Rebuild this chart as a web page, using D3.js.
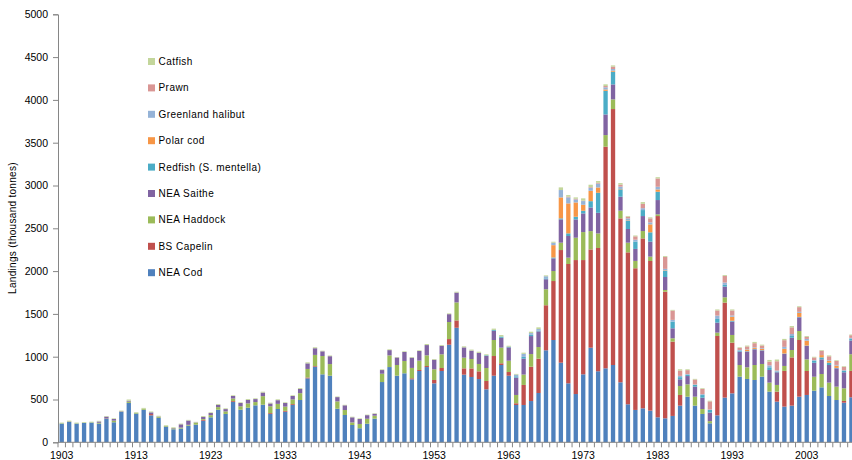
<!DOCTYPE html>
<html>
<head>
<meta charset="utf-8">
<script src="https://cdn.jsdelivr.net/npm/d3@7/dist/d3.min.js"></script>
<style>
  html, body { margin: 0; padding: 0; background: #ffffff; }
  svg { display: block; }
  text { font-family: "Liberation Sans", Arial, sans-serif; fill: #000; }
</style>
</head>
<body>
<svg id="chart" width="852" height="460"></svg>
<script>
// ---------- DATA (thousand tonnes) ----------
const years = d3.range(1903, 2010); // 1903 ... 2009
const tickYears = [1903, 1913, 1923, 1933, 1943, 1953, 1963, 1973, 1983, 1993, 2003];
const yTicks = [0, 500, 1000, 1500, 2000, 2500, 3000, 3500, 4000, 4500, 5000];

const neaCod = [
  218,237,218,226,230,218,272,234,354,460,
  335,380,315,285,183,152,160,194,206,252,
  292,381,331,471,381,404,432,439,331,389,
  357,436,494,747,883,794,778,392,319,202,
  164,217,276,704,879,778,806,736,833,879,
  689,833,1140,1338,790,763,739,619,778,903,
  778,436,436,482,576,1075,1195,930,689,564,
  794,1105,830,864,903,701,444,378,397,370,
  292,280,308,428,533,428,331,222,315,522,
  572,767,740,728,767,592,475,417,428,533,
  553,603,642,541,494,463,526
];
const bsCapelin = [
  0,0,0,0,0,0,0,0,0,0,
  0,0,15,0,0,0,0,0,0,10,
  0,0,0,10,0,0,0,0,10,0,
  10,10,0,10,8,0,0,0,0,0,
  0,0,0,0,0,0,0,12,12,12,
  39,35,66,86,74,100,90,97,230,20,
  43,20,234,401,401,526,689,1316,1394,1565,
  1335,1148,1440,2589,2990,1915,1775,1655,1985,1748,
  2351,1479,868,125,0,0,0,0,927,1110,
  592,0,0,0,0,0,117,417,564,662,
  280,0,0,0,0,20,308
];
const neaHaddock = [
  5,5,4,4,4,10,5,19,4,15,
  8,12,0,10,8,10,12,10,20,10,
  25,30,30,30,40,50,38,100,80,60,
  50,55,80,100,130,214,136,86,58,30,
  50,58,35,97,136,125,144,121,109,125,
  125,160,199,210,125,110,86,152,187,183,
  132,97,121,148,136,187,117,86,74,261,
  327,214,170,136,113,90,113,86,86,51,
  20,20,39,105,144,105,58,25,39,62,
  90,136,136,175,148,105,78,58,86,105,
  136,163,156,156,156,148,195
];
const neaSaithe = [
  0,3,0,0,0,15,23,19,5,10,
  0,0,20,5,0,5,38,50,5,25,
  25,27,27,30,38,42,35,42,33,43,
  42,40,50,65,78,55,92,50,55,60,
  58,42,22,43,62,88,105,120,113,120,
  112,100,92,115,120,98,130,140,108,115,
  156,203,187,210,183,117,148,272,253,214,
  218,276,241,241,175,163,160,140,175,175,
  167,152,117,78,97,117,132,100,117,125,
  156,156,183,183,156,148,148,140,144,160,
  156,163,171,206,214,187,160
];
const redfish = [
  0,0,0,0,0,0,0,0,0,0,
  0,0,0,0,0,0,0,0,0,0,
  0,0,0,0,0,0,0,0,0,0,
  0,0,0,0,0,0,0,0,0,0,
  0,0,0,0,0,0,0,0,0,0,
  0,0,0,0,0,0,0,8,10,15,
  8,15,20,15,10,10,10,12,31,31,
  31,74,234,276,148,86,97,86,70,109,
  97,74,78,25,15,20,31,31,43,20,
  10,12,5,5,5,31,8,5,20,5,
  5,23,23,27,5,16,23
];
const polarCod = [
  0,0,0,0,0,0,0,0,0,0,
  0,0,0,0,0,0,0,0,0,0,
  0,0,0,0,0,0,0,0,0,0,
  0,0,0,0,0,0,0,0,0,0,
  0,0,0,0,0,0,0,0,0,0,
  0,0,0,0,0,0,0,0,0,0,
  0,0,0,0,0,0,144,245,350,167,
  70,121,62,16,12,5,5,0,0,93,
  27,5,0,0,0,0,0,0,0,0,
  47,0,20,12,16,0,0,55,0,47,
  58,0,27,20,27,0,0
];
const greenlandHalibut = [
  0,0,0,0,0,0,0,0,0,0,
  0,0,0,0,0,0,0,0,0,0,
  0,0,0,0,0,0,0,0,0,0,
  0,0,0,0,0,0,0,0,0,0,
  0,0,0,0,0,0,0,0,0,0,
  0,0,0,0,0,0,0,0,0,0,
  0,20,35,20,17,25,28,86,70,35,
  43,35,45,25,20,27,22,22,22,23,
  31,16,20,15,8,5,10,5,39,27,
  15,8,5,8,8,23,12,23,23,12,
  20,8,0,8,8,8,8
];
const prawn = [
  0,0,0,0,0,0,0,0,0,0,
  0,0,0,0,0,0,0,0,0,0,
  0,0,0,0,0,0,0,0,0,0,
  0,0,0,0,0,0,0,0,0,0,
  0,0,0,0,0,0,0,0,0,0,
  0,0,0,0,0,0,0,0,0,0,
  0,0,0,0,0,0,0,0,8,8,
  5,8,10,15,27,23,20,39,51,47,
  97,140,109,62,46,58,62,95,60,78,
  58,23,31,47,31,43,109,78,78,55,
  23,31,51,47,47,39,31
];
const catfish = [
  7,8,8,7,7,8,7,8,7,15,
  8,10,10,10,8,8,8,8,8,10,
  8,9,9,8,8,10,9,10,9,10,
  8,8,10,12,11,7,8,7,6,7,
  8,6,6,8,9,5,8,7,8,12,
  8,9,9,10,12,12,13,12,15,17,
  11,8,14,16,20,10,12,31,19,16,
  27,28,20,20,15,18,8,10,20,12,
  15,10,8,15,10,8,8,8,12,10,
  12,8,10,15,10,20,20,15,15,10,
  10,8,8,10,8,8,8
];

const seriesNames = ["NEA Cod", "BS Capelin", "NEA Haddock", "NEA Saithe",
  "Redfish (S. mentella)", "Polar cod", "Greenland halibut", "Prawn", "Catfish"];
const seriesValues = [neaCod, bsCapelin, neaHaddock, neaSaithe, redfish,
  polarCod, greenlandHalibut, prawn, catfish];
const seriesColors = ["#4F81BD", "#C0504D", "#9BBB59", "#8064A2", "#4BACC6",
  "#F79646", "#95B3D7", "#D99694", "#C3D69B"];

(function () {
  // ---------- TABLE ----------
  const table = years.map((yr, i) => {
    const row = { year: yr };
    seriesNames.forEach((n, k) => { row[n] = seriesValues[k][i]; });
    return row;
  });
  const stacked = d3.stack().keys(seriesNames)(table);

  // ---------- LAYOUT ----------
  const svg = d3.select("#chart");
  const plotLeft = 58, plotTop = 14.3, plotBottom = 442.3;
  const step = 7.45;
  const plotRight = plotLeft + step * years.length;
  const pad = 0.42;

  const x = d3.scaleBand().domain(years).range([plotLeft, plotRight])
    .paddingInner(pad).paddingOuter(pad / 2);
  const y = d3.scaleLinear().domain([0, 5000]).range([plotBottom, plotTop]);
  const color = d3.scaleOrdinal().domain(seriesNames).range(seriesColors);

  // bars
  svg.append("g").selectAll("g").data(stacked).join("g")
    .attr("fill", d => color(d.key))
    .selectAll("rect").data(d => d).join("rect")
    .attr("x", d => x(d.data.year))
    .attr("width", x.bandwidth())
    .attr("y", d => y(d[1]))
    .attr("height", d => Math.max(0, y(d[0]) - y(d[1])));

  // y axis
  const axisColor = "#868686";
  const yAxis = svg.append("g").attr("transform", `translate(${plotLeft},0)`)
    .call(d3.axisLeft(y).tickValues(yTicks).tickSize(5).tickPadding(5).tickFormat(d3.format("d")));
  yAxis.select(".domain").attr("stroke", axisColor);
  yAxis.selectAll(".tick line").attr("stroke", axisColor);
  yAxis.selectAll(".tick text").attr("font-size", "10.5px")
    .attr("font-family", "Liberation Sans, Arial, sans-serif").attr("fill", "#000");

  // x axis line
  svg.append("line").attr("x1", plotLeft).attr("x2", plotRight)
    .attr("y1", plotBottom).attr("y2", plotBottom).attr("stroke", axisColor);
  // x ticks between categories
  const bounds = years.map(yr => x(yr) + x.bandwidth() / 2 - x.step() / 2).concat([plotRight]);
  svg.append("g").selectAll("line").data(bounds).join("line")
    .attr("x1", d => d).attr("x2", d => d)
    .attr("y1", plotBottom).attr("y2", plotBottom + 5)
    .attr("stroke", axisColor);
  // x labels
  svg.append("g").selectAll("text").data(tickYears).join("text")
    .attr("x", d => x(d) + x.bandwidth() / 2)
    .attr("y", plotBottom + 17)
    .attr("text-anchor", "middle")
    .attr("font-size", "10.5px")
    .text(d => d);

  // y title
  svg.append("text")
    .attr("transform", "translate(16,228) rotate(-90)")
    .attr("text-anchor", "middle")
    .attr("font-size", "10px")
    .attr("letter-spacing", "0.3px")
    .text("Landings (thousand  tonnes)");

  // legend
  const legendOrder = seriesNames.slice().reverse();
  const lg = svg.append("g");
  legendOrder.forEach((n, i) => {
    const cy = 61.5 + i * 26.4;
    lg.append("rect").attr("x", 148).attr("y", cy - 3.5).attr("width", 7).attr("height", 7)
      .attr("fill", color(n));
    lg.append("text").attr("x", 158.5).attr("y", cy + 3.5)
      .attr("font-size", "10px").attr("letter-spacing", "0.45px")
      .text(n);
  });
})();
</script>
</body>
</html>
